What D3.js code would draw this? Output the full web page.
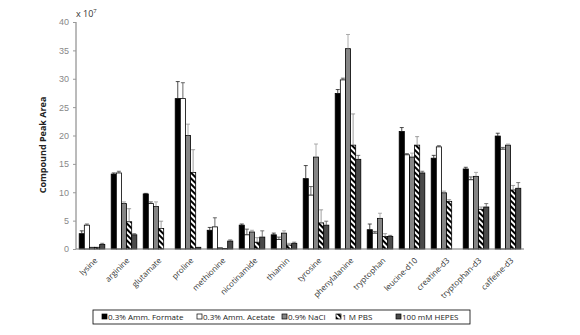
<!DOCTYPE html>
<html>
<head>
<meta charset="utf-8">
<script src="https://cdn.jsdelivr.net/npm/d3@7"></script>
<style>
  body { margin: 0; background: #fff; }
  svg { display: block; font-family: "Open Sans", "DejaVu Sans", sans-serif; }
</style>
</head>
<body>
<div id="chart"></div>
<script>
// Compound peak areas (x 10^7) per elution solvent
const compounds = ['lysine', 'arginine', 'glutamate', 'proline', 'methionine', 'nicotinamide', 'thiamin',
    'tyrosine', 'phenylalanine', 'tryptophan', 'leucine-d10', 'creatine-d3', 'tryptophan-d3', 'caffeine-d3'];
const seriesNames = ['0.3% Amm. Formate', '0.3% Amm. Acetate', '0.9% NaCl', '1 M PBS', '100 mM HEPES'];

const formate = [2.7, 13.2, 9.7, 26.5, 3.3, 4.2, 2.5, 12.4, 27.4, 3.4, 20.7, 16.0, 14.1, 19.9];
const acetate = [4.2, 13.4, 8.0, 26.5, 3.9, 2.5, 1.7, 9.5, 29.8, 2.8, 16.6, 18.0, 12.2, 17.6];
const nacl = [0.3, 8.0, 7.5, 20.0, 0.2, 3.0, 2.8, 16.2, 35.3, 5.4, 16.2, 9.9, 12.8, 18.3];
const pbs = [0.3, 4.8, 3.6, 13.5, 0.1, 1.2, 0.7, 4.6, 18.3, 2.2, 18.3, 8.4, 7.0, 10.4];
const hepes = [0.8, 2.5, 0, 0.3, 1.4, 2.1, 1.0, 4.2, 15.8, 2.2, 13.4, 0, 7.4, 10.7];

const formateErr = [0.5, 0.2, 0.1, 3.0, 0.5, 0.2, 0.3, 2.3, 0.7, 1.0, 0.7, 0.5, 0.3, 0.5];
const acetateErr = [0.2, 0.3, 0.3, 2.8, 1.6, 1.0, 0.4, 1.5, 0.3, 0.3, 0.2, 0.2, 0.5, 0.3];
const naclErr = [0, 0.3, 0.8, 2.0, 0, 0.3, 0.4, 2.3, 2.5, 0.9, 0.7, 0.3, 0.7, 0.2];
const pbsErr = [0, 2.3, 1.3, 4.0, 0, 0.8, 0.3, 2.3, 5.5, 0.5, 1.5, 0.3, 0.4, 0.8];
const hepesErr = [0.2, 0.2, 0, 0, 0.2, 1.1, 0.2, 0.7, 0.7, 0.2, 0.3, 0, 0.6, 1.0];

const yTicks = [0, 5, 10, 15, 20, 25, 30, 35, 40];

const seriesValues = [formate, acetate, nacl, pbs, hepes];
const seriesErrors = [formateErr, acetateErr, naclErr, pbsErr, hepesErr];
const fills = ['#000', '#fff', '#858585', 'url(#hatch)', '#4a4a4a'];
const errColors = ['#222', '#444', '#999', '#888', '#555'];

const width = 580, height = 335;
const svg = d3.select('#chart').append('svg')
    .attr('width', width)
    .attr('height', height);

// Hatch pattern for the PBS bars
const defs = svg.append('defs');
const pat = defs.append('pattern')
    .attr('id', 'hatch')
    .attr('patternUnits', 'userSpaceOnUse')
    .attr('width', 4)
    .attr('height', 4)
    .attr('patternTransform', 'rotate(-45)');
pat.append('rect').attr('width', 4).attr('height', 4).attr('fill', '#fff');
pat.append('rect').attr('width', 2).attr('height', 4).attr('fill', '#000');

const x0 = d3.scaleBand().domain(compounds).range([76, 524]).paddingInner(0.2).paddingOuter(0.1);
const x1 = d3.scaleBand().domain(d3.range(seriesNames.length)).range([0, x0.bandwidth()]);
const y = d3.scaleLinear().domain([0, 40]).range([249, 22]);

// Y axis
const yAxis = svg.append('g')
    .attr('transform', 'translate(76,0)')
    .call(d3.axisLeft(y).tickValues(yTicks).tickSize(3).tickPadding(4));
yAxis.select('.domain').attr('stroke', '#777').attr('d', 'M0,22V249');
yAxis.selectAll('.tick line').attr('stroke', '#999').attr('x2', 0).attr('x1', -3);
yAxis.selectAll('.tick text').attr('fill', '#888').style('font-size', '9px');

svg.append('text')
    .attr('x', 76)
    .attr('y', 17)
    .attr('fill', '#333')
    .style('font-size', '9px')
    .html('x 10<tspan dy="-4" style="font-size:6px">7</tspan>');

svg.append('text')
    .attr('transform', 'translate(46,145) rotate(-90)')
    .attr('text-anchor', 'middle')
    .attr('fill', '#222')
    .style('font-size', '9px')
    .style('font-weight', 'bold')
    .text('Compound Peak Area');

// Bars
const groups = svg.append('g').selectAll('g')
    .data(compounds)
    .join('g')
    .attr('transform', d => `translate(${x0(d)},0)`);

seriesValues.forEach((vals, s) => {
    groups.append('rect')
        .attr('x', x1(s))
        .attr('y', (d, i) => y(vals[i]))
        .attr('width', x1.bandwidth())
        .attr('height', (d, i) => y(0) - y(vals[i]))
        .attr('fill', fills[s])
        .attr('stroke', '#000')
        .attr('stroke-width', 0.8);
});

// Error bars (upper only)
seriesValues.forEach((vals, s) => {
    const errs = seriesErrors[s];
    const cx = x1(s) + x1.bandwidth() / 2;
    groups.filter((d, i) => errs[i] > 0).each(function(d) {
        const i = compounds.indexOf(d);
        const g = d3.select(this);
        const top = y(vals[i] + errs[i]);
        g.append('line')
            .attr('x1', cx).attr('x2', cx)
            .attr('y1', y(vals[i])).attr('y2', top)
            .attr('stroke', errColors[s]).attr('stroke-width', 0.8);
        g.append('line')
            .attr('x1', cx - 2).attr('x2', cx + 2)
            .attr('y1', top).attr('y2', top)
            .attr('stroke', errColors[s]).attr('stroke-width', 0.8);
    });
});

// X axis
svg.append('line')
    .attr('x1', 76).attr('x2', 524)
    .attr('y1', y(0)).attr('y2', y(0))
    .attr('stroke', '#777');

svg.append('g').selectAll('text')
    .data(compounds)
    .join('text')
    .attr('transform', d => `translate(${x0(d) + x0.bandwidth() / 2 + 6},${261}) rotate(-45)`)
    .attr('text-anchor', 'end')
    .attr('fill', '#333')
    .style('font-size', '8px')
    .text(d => d);

// Legend
const legend = svg.append('g');
legend.append('rect')
    .attr('x', 93).attr('y', 310)
    .attr('width', 377).attr('height', 14)
    .attr('fill', '#fff')
    .attr('stroke', '#000')
    .attr('stroke-width', 0.8);

const legendX = [102, 197, 282, 336, 396];
seriesNames.forEach((name, s) => {
    legend.append('rect')
        .attr('x', legendX[s]).attr('y', 314)
        .attr('width', 5).attr('height', 5)
        .attr('fill', fills[s])
        .attr('stroke', '#000')
        .attr('stroke-width', 0.7);
    legend.append('text')
        .attr('x', legendX[s] + 6)
        .attr('y', 320)
        .attr('fill', '#222')
        .style('font-size', '8px')
        .text(name);
});
</script>
</body>
</html>
